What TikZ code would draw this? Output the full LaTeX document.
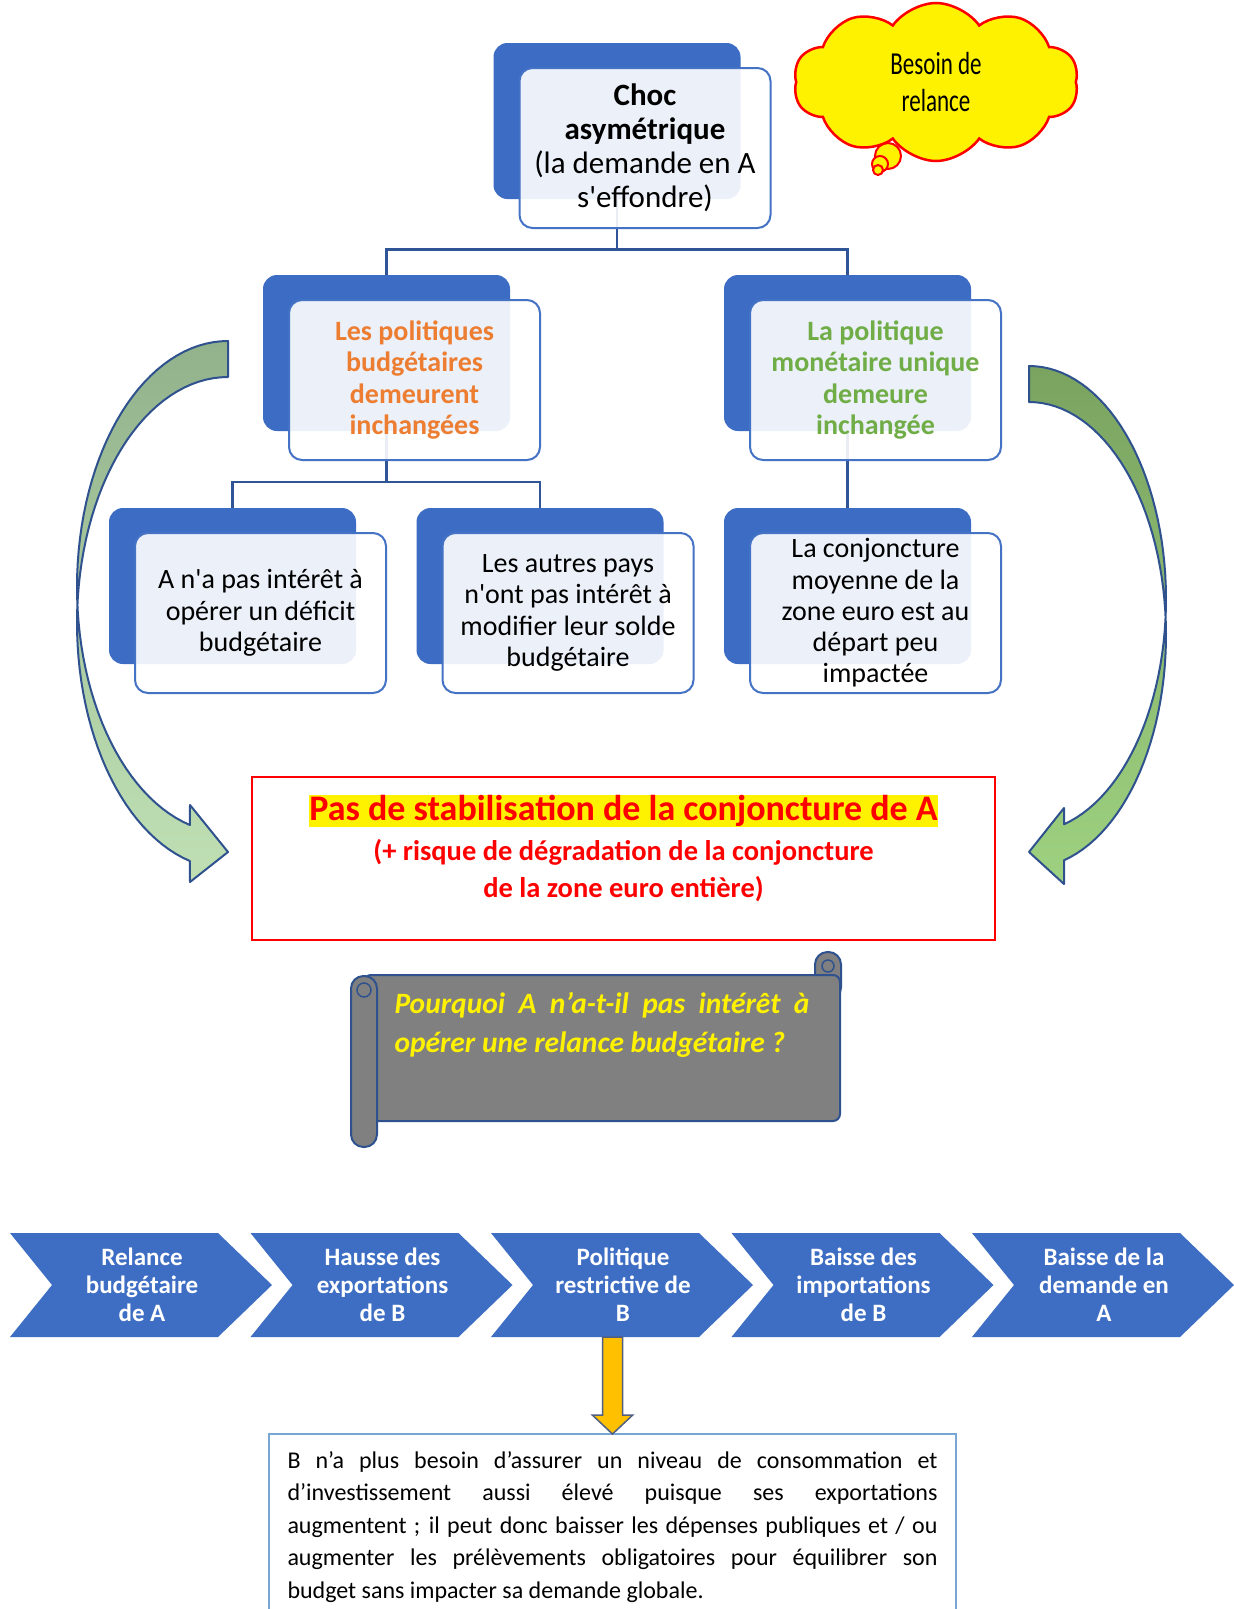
\documentclass[tikz,border=0pt]{standalone}
\usepackage{fontspec}
\setmainfont{Carlito}
\usetikzlibrary{shapes.symbols,positioning,calc}
\definecolor{boxblue}{RGB}{60,108,196}
\definecolor{frameblue}{RGB}{68,114,196}
\definecolor{treeblue}{RGB}{47,85,151}
\definecolor{polorange}{RGB}{237,125,49}
\definecolor{polgreen}{RGB}{112,173,71}
\definecolor{arrowline}{RGB}{47,82,143}
\definecolor{leftTop}{RGB}{146,178,140}
\definecolor{leftBot}{RGB}{192,224,180}
\definecolor{rightTop}{RGB}{122,163,96}
\definecolor{rightBot}{RGB}{158,209,128}
\definecolor{scrollgray}{RGB}{128,128,128}
\definecolor{chevblue}{RGB}{62,110,196}
\definecolor{goldarrow}{RGB}{255,192,0}
\definecolor{goldline}{RGB}{80,95,130}
\definecolor{explainline}{RGB}{120,165,210}
\newcommand{\fntChoc}{\fontsize{31}{34}\selectfont}
\newcommand{\fntPol}{\fontsize{28}{31.4}\selectfont\bfseries}
\newcommand{\fntLeaf}{\fontsize{28}{31.3}\selectfont}
\newcommand{\fntTitle}{\fontsize{36}{38}\selectfont\bfseries}
\newcommand{\fntSub}{\fontsize{28.5}{37}\selectfont\bfseries}
\newcommand{\fntAsk}{\fontsize{29.5}{39}\selectfont\bfseries\itshape}
\newcommand{\fntChev}{\fontsize{25}{28}\selectfont\bfseries}
\newcommand{\fntBody}{\fontsize{24}{32.6}\selectfont}
\newcommand{\fntCloud}{\fontsize{32}{37}\selectfont}
\newcommand{\narrow}[1]{\scalebox{0.72}[1]{#1}}
\tikzset{
  backbox/.style={rectangle, rounded corners=14pt, fill=boxblue,
                  minimum width=247pt, minimum height=156pt, inner sep=0pt},
  frontbox/.style={rectangle, rounded corners=13pt, draw=frameblue, line width=2pt,
                   fill=white, fill opacity=0.9, text opacity=1,
                   minimum width=251pt, minimum height=160pt, inner sep=0pt, align=center},
  polbud/.style={font=\fntPol, text=polorange},
  polmon/.style={font=\fntPol, text=polgreen},
  leaf/.style={font=\fntLeaf, text=black},
  tree/.style={draw=treeblue, line width=2.5pt},
  bigarrow/.style={draw=arrowline, line width=2pt, line join=round},
  thought/.style={cloud, cloud puffs=10, cloud puff arc=110, aspect=2,
                  draw=red, line width=2.5pt, fill=yellow,
                  minimum width=285pt, minimum height=158pt, align=center, font=\fntCloud},
  bubble/.style={draw=red, line width=2pt, fill=yellow},
  redbox/.style={rectangle, draw=red, line width=2.5pt,
                 minimum width=743pt, minimum height=163pt},
  scroll/.style={draw=arrowline, line width=2pt, fill=scrollgray},
  asktext/.style={text width=415pt, align=justify, font=\fntAsk, text=yellow, inner sep=0pt},
  chevfill/.style={fill=chevblue},
  chevtext/.style={text=white, font=\fntChev, align=center,
                   minimum height=104pt, inner sep=0pt},
  goldblock/.style={draw=goldline, line width=1.5pt, fill=goldarrow, line join=miter},
  explain/.style={text width=650pt, align=justify, font=\fntBody,
                  inner xsep=18.5pt, inner ysep=17pt},
  explainframe/.style={draw=explainline, line width=1.5pt},
}

\begin{document}
\begin{tikzpicture}[x=1pt, y=-1pt]
  \useasboundingbox (0,0) rectangle (1234,1609);
  \clip (0,0) rectangle (1234,1609);
  \fill[white] (0,0) rectangle (1234,1609);
  % curved arrows towards the result
  \draw[bigarrow, top color=leftTop, bottom color=leftBot]
    plot[domain=90:255.4, samples=60, variable=\t] ({228+151*cos(\t)}, {587-246*sin(\t)})
    -- (190,805) -- (228,852) -- (190,882)
    -- plot[domain=255.4:90, samples=60, variable=\t] ({228+151*cos(\t)}, {623-246*sin(\t)})
    -- cycle;
  \draw[bigarrow, top color=rightTop, bottom color=rightBot]
    plot[domain=90:-75.2, samples=60, variable=\t] ({1029+137*cos(\t)}, {599-233*sin(\t)})
    -- (1064,808) -- (1029,852) -- (1064,884)
    -- plot[domain=-75.2:90, samples=60, variable=\t] ({1029+137*cos(\t)}, {635-233*sin(\t)})
    -- cycle;
  % back boxes
  \node[backbox] (chocB) at (617,121) {};
  \node[backbox] (budB) at (386.5,353) {};
  \node[backbox] (monB) at (847.5,353) {};
  \node[backbox] (deficitB) at (232.5,586) {};
  \node[backbox] (othersB) at (540,586) {};
  \node[backbox] (euroB) at (847.5,586) {};
  % tree lines
  \draw[tree] (chocB.south) -- ++(0,50.5) -| (budB.north);
  \draw[tree] (chocB.south) -- ++(0,50.5) -| (monB.north);
  \draw[tree] (budB.south) -- ++(0,51) -| (deficitB.north);
  \draw[tree] (budB.south) -- ++(0,51) -| (othersB.north);
  \draw[tree] (monB.south) -- (euroB.north);
  % front boxes
  \node[frontbox, font=\fntChoc] (chocF) at ([shift={(28,27)}]chocB.center)
    {\textbf{Choc}\\\textbf{asymétrique}\\(la demande en A\\s\textquotesingle effondre)};
  \node[frontbox, polbud] (budF) at ([shift={(28,27)}]budB.center)
    {Les politiques\\budgétaires\\demeurent\\inchangées};
  \node[frontbox, polmon] (monF) at ([shift={(28,27)}]monB.center)
    {La politique\\monétaire unique\\demeure\\inchangée};
  \node[frontbox, leaf] (deficitF) at ([shift={(28,27)}]deficitB.center)
    {A n\textquotesingle a pas intérêt à\\opérer un déficit\\budgétaire};
  \node[frontbox, leaf] (othersF) at ([shift={(28,27)}]othersB.center)
    {Les autres pays\\n\textquotesingle ont pas intérêt à\\modifier leur solde\\budgétaire};
  \node[frontbox, leaf] (euroF) at ([shift={(28,27)}]euroB.center)
    {La conjoncture\\moyenne de la\\zone euro est au\\départ peu\\impactée};
  % thought cloud
  \draw[bubble] (888,156) circle (13);
  \draw[bubble] (880,164) circle (8);
  \draw[bubble] (878,170) circle (5);
  \node[thought] (need) at (936,82) {\narrow{Besoin de}\\\narrow{relance}};
  % result
  \node[redbox] (result) at (623.5,858.5) {};
  \node[font=\fntTitle, text=red, inner sep=0pt] (resTitle) at ([shift={(0,-47.5)}]result.center)
    {\setlength{\fboxsep}{0pt}\colorbox{yellow}{\rule[-6pt]{0pt}{32pt}Pas de stabilisation de la conjoncture de A}};
  \node[font=\fntSub, text=red, align=center, inner sep=0pt] (resSub) at ([shift={(0,12)}]result.center)
    {(+ risque de dégradation de la conjoncture\\de la zone euro entière)};
  % scroll
  \draw[scroll, rounded corners=12.5pt] (815,952) rectangle (841,1000);
  \draw[scroll, rounded corners=7pt] (364,975) rectangle (840,1121);
  \draw[scroll, rounded corners=12.5pt] (351,976) rectangle (377,1147);
  \draw[draw=arrowline, line width=1.5pt] (364,990) circle (7);
  \draw[draw=arrowline, line width=1.5pt] (828,966) circle (6);
  \node[asktext] (question) at (602,1025)
    {Pourquoi A n’a-t-il pas intérêt à\linebreak opérer une relance budgétaire ?};
  % chain of chevrons
  \foreach \txt [count=\i from 1] in {{Relance\\budgétaire\\de A},{Hausse des\\exportations\\de B},
      {Politique\\restrictive de\\B},{Baisse des\\importations\\de B},{Baisse de la\\demande en\\A}}{
    \pgfmathsetmacro{\xo}{10+240.5*(\i-1)}
    \fill[chevfill] (\xo,1233) -- ++(208,0) -- ++(54,52) -- ++(-54,52) -- ++(-208,0) -- ++(42,-52) -- cycle;
    \node[chevtext] (ch\i) at (\xo+132,1285) {\txt};
  }
  % explanation
  \node[explain, anchor=north] (explain) at (612.5,1434)
    {B n’a plus besoin d’assurer un niveau de consommation et\linebreak
     d’investissement aussi élevé puisque ses exportations\linebreak
     augmentent ; il peut donc baisser les dépenses publiques et / ou\linebreak
     augmenter les prélèvements obligatoires pour équilibrer son\linebreak
     budget sans impacter sa demande globale.};
  \draw[explainframe] ([shift={(0,40)}]explain.south west) -- (explain.north west)
    -- (explain.north east) -- ([shift={(0,40)}]explain.south east);
  \coordinate (dropTop) at (explain.north |- ch3.south);
  \draw[goldblock] ([shift={(-10,0)}]dropTop) -- ([shift={(-10,78)}]dropTop)
    -- ([shift={(-20,78)}]dropTop) -- (explain.north) -- ([shift={(20,78)}]dropTop)
    -- ([shift={(10,78)}]dropTop) -- ([shift={(10,0)}]dropTop) -- cycle;
\end{tikzpicture}
\end{document}
